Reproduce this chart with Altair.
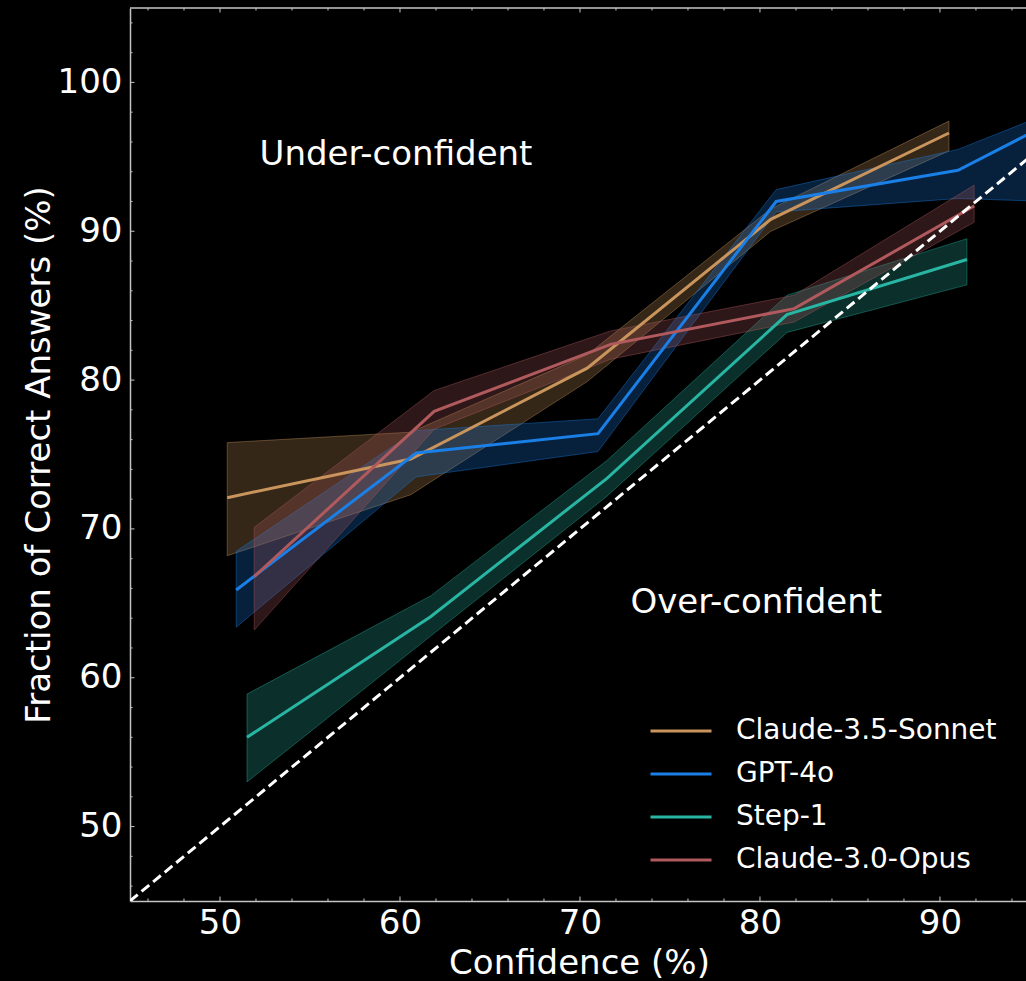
import altair as alt
import pandas as pd

# Calibration curves: mean confidence per bin, accuracy, and the band edges
models = ["Claude-3.5-Sonnet", "GPT-4o", "Step-1", "Claude-3.0-Opus"]
colors = ["#c9955c", "#1a7fe6", "#29b5a3", "#b05a5e"]

sonnet_conf = [50.4, 60.6, 70.4, 80.6, 90.5]
sonnet_acc = [72.1, 74.7, 80.8, 90.8, 96.6]
sonnet_hi = [75.8, 76.5, 81.7, 91.5, 97.4]
sonnet_lo = [68.2, 72.3, 79.9, 90.0, 95.4]

gpt_conf = [50.9, 60.9, 71.0, 80.9, 91.0, 96.0]
gpt_acc = [65.9, 75.1, 76.4, 92.0, 94.1, 97.2]
gpt_hi = [68.5, 76.6, 77.4, 92.8, 95.5, 97.9]
gpt_lo = [63.4, 73.5, 75.2, 91.3, 92.2, 92.0]

step_conf = [51.5, 61.7, 71.5, 81.5, 91.5]
step_acc = [56.0, 64.1, 73.4, 84.4, 88.1]
step_hi = [58.9, 65.5, 74.6, 85.7, 89.5]
step_lo = [53.0, 62.8, 72.2, 83.2, 86.4]

opus_conf = [51.9, 61.9, 71.7, 81.9, 91.9]
opus_acc = [66.8, 77.9, 82.4, 84.8, 91.7]
opus_hi = [70.1, 79.3, 83.3, 85.7, 93.1]
opus_lo = [63.2, 76.7, 81.4, 83.9, 90.6]

diagonal = [45, 95]

x_major = [50, 60, 70, 80, 90]
x_minor = [v for v in range(46, 95, 2) if v % 10]
y_major = [50, 60, 70, 80, 90, 100]
y_minor = [v for v in range(46, 105, 2) if v % 10]

labels_text = ["Under-confident", "Over-confident"]
labels_x = [52.2, 72.8]
labels_y = [95.1, 65.0]

X_DOMAIN = [45, 94.78]
Y_DOMAIN = [45, 105]
W, H = 896, 893
FONT = "DejaVu Sans"
SPINE = "#c4c4c4"

series = [
    (models[0], sonnet_conf, sonnet_acc, sonnet_hi, sonnet_lo),
    (models[1], gpt_conf, gpt_acc, gpt_hi, gpt_lo),
    (models[2], step_conf, step_acc, step_hi, step_lo),
    (models[3], opus_conf, opus_acc, opus_hi, opus_lo),
]
rows = []
for name, c, a, hi, lo in series:
    for ci, ai, h, l in zip(c, a, hi, lo):
        rows.append({"model": name, "conf": ci, "acc": ai, "hi": h, "lo": l})
df = pd.DataFrame(rows)

xs = alt.Scale(domain=X_DOMAIN, nice=False, zero=False)
ys = alt.Scale(domain=Y_DOMAIN, nice=False, zero=False)
cscale = alt.Scale(domain=models, range=colors)

legend = alt.Legend(
    title=None, orient="none", direction="vertical", legendX=519, legendY=708,
    symbolType="stroke", symbolSize=3721, symbolStrokeWidth=3,
    labelFont=FONT, labelFontSize=28, labelColor="white", labelLimit=500,
    labelOffset=23, rowPadding=13, clipHeight=30, padding=0,
)

x_axis = alt.Axis(
    values=x_major, format="d", ticks=False, grid=False,
    domainColor=SPINE, domainWidth=1.5,
    labelFont=FONT, labelFontSize=34, labelColor="white", labelPadding=5,
    title="Confidence (%)", titleFont=FONT, titleFontSize=34,
    titleFontWeight="normal", titleColor="white",
    titleX=449, titleY=72, titleBaseline="alphabetic", titleAlign="center",
)
y_axis = alt.Axis(
    values=y_major, format="d", ticks=False, grid=False,
    domainColor=SPINE, domainWidth=1.5,
    labelFont=FONT, labelFontSize=34, labelColor="white", labelPadding=8,
    title="Fraction of Correct Answers (%)", titleFont=FONT, titleFontSize=34,
    titleFontWeight="normal", titleColor="white", titleAngle=270,
    titleX=-81, titleY=H / 2, titleBaseline="alphabetic", titleAlign="center",
)

base = alt.Chart(df)

bands = base.mark_area(fillOpacity=0.26, strokeOpacity=0.4, strokeWidth=1, clip=True).encode(
    x=alt.X("conf:Q", scale=xs, axis=x_axis),
    y=alt.Y("hi:Q", scale=ys, axis=y_axis),
    y2="lo:Q",
    color=alt.Color("model:N", scale=cscale, sort=models, legend=legend),
    stroke=alt.Stroke("model:N", scale=cscale, legend=None),
    detail="model:N",
)

lines = base.mark_line(strokeWidth=3, clip=True).encode(
    x=alt.X("conf:Q", scale=xs),
    y=alt.Y("acc:Q", scale=ys),
    color=alt.Color("model:N", scale=cscale, sort=models, legend=legend),
)

diag = alt.Chart(pd.DataFrame({"v": diagonal})).mark_line(
    color="white", strokeWidth=3, strokeDash=[10, 5], clip=True
).encode(x=alt.X("v:Q", scale=xs), y=alt.Y("v:Q", scale=ys))

notes = alt.Chart(pd.DataFrame({"t": labels_text, "x": labels_x, "y": labels_y})).mark_text(
    font=FONT, fontSize=34, color="white", align="left", baseline="middle"
).encode(x=alt.X("x:Q", scale=xs), y=alt.Y("y:Q", scale=ys), text="t:N")

# inward-pointing tick marks on bottom, top and left spines
def xticks(vals, ln):
    d = alt.Chart(pd.DataFrame({"v": vals}))
    bottom = d.mark_rule(color=SPINE, strokeWidth=1).encode(
        x=alt.X("v:Q", scale=xs), y=alt.value(H), y2=alt.value(H - ln))
    top = d.mark_rule(color=SPINE, strokeWidth=1).encode(
        x=alt.X("v:Q", scale=xs), y=alt.value(0), y2=alt.value(ln))
    return bottom + top

def yticks(vals, ln):
    return alt.Chart(pd.DataFrame({"v": vals})).mark_rule(color=SPINE, strokeWidth=1).encode(
        y=alt.Y("v:Q", scale=ys), x=alt.value(0), x2=alt.value(ln))

top_spine = alt.Chart(pd.DataFrame({"v": [0]})).mark_rule(color=SPINE, strokeWidth=1.5).encode(
    x=alt.value(0), x2=alt.value(W), y=alt.value(0))

chart = alt.layer(
    bands, lines, diag, notes,
    xticks(x_major, 4.5), xticks(x_minor, 2.5),
    yticks(y_major, 4.5), yticks(y_minor, 2.5),
    top_spine,
).properties(
    width=W, height=H, background="black",
    padding={"left": 130, "top": 8, "right": 0, "bottom": 80},
    autosize=alt.AutoSizeParams(type="none"),
).configure_view(stroke=None)

chart.save("out.html", embed_options={"renderer": "svg", "actions": False})
